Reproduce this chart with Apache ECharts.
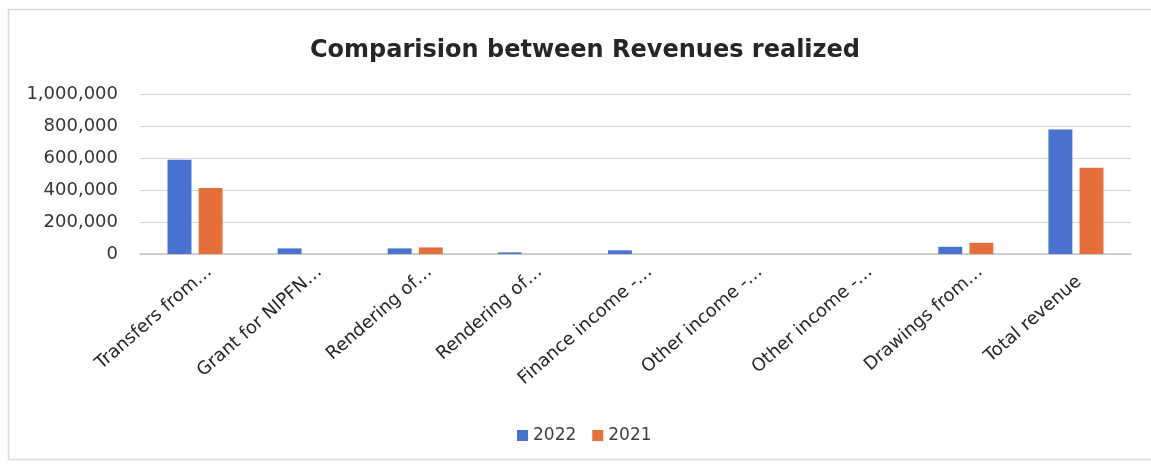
<!DOCTYPE html>
<html>
<head>
<meta charset="utf-8">
<script src="https://cdn.jsdelivr.net/npm/echarts@6/dist/echarts.min.js"></script>
<style>
  html, body { margin: 0; padding: 0; background: #ffffff; }
  #chart { width: 1151px; height: 465px; }
</style>
</head>
<body>
<div id="chart"></div>
<script>
// Revenue line items (labels truncated as shown on the axis)
const categories = [
  'Transfers from…',
  'Grant for NIPFN…',
  'Rendering of…',
  'Rendering of…',
  'Finance income -…',
  'Other income -…',
  'Other income -…',
  'Drawings from…',
  'Total revenue'
];

// Revenues realized per year
const revenue2022 = [589000, 35000, 35000, 10000, 23000, 0, 0, 45000, 778000];
const revenue2021 = [412000, 0, 41000, 0, 0, 0, 0, 70000, 539000];

const seriesNames = ['2022', '2021'];
const yTicks = { min: 0, max: 1000000, interval: 200000 };

const FONT = 'DejaVu Sans';

// Untruncated labels sit a little further back along the slant
const xAxisData = categories.map(name =>
  name.endsWith('…') ? name : { value: name, textStyle: { padding: [23, -4, 0, 0] } }
);

const chart = echarts.init(document.getElementById('chart'), null, { renderer: 'canvas' });

chart.setOption({
  backgroundColor: '#ffffff',
  animation: false,
  title: {
    text: 'Comparision between Revenues realized',
    left: 580,
    textAlign: 'center',
    top: 34,
    textStyle: { fontFamily: FONT, fontSize: 24, fontWeight: 'bold', color: '#262626' }
  },
  legend: {
    data: seriesNames,
    left: 512,
    top: 422,
    itemWidth: 11,
    itemHeight: 11,
    itemGap: 16,
    icon: 'rect',
    textStyle: { fontFamily: FONT, fontSize: 17, color: '#404040' }
  },
  grid: {
    left: 140,
    right: 20,
    top: 94,
    height: 160,
    outerBoundsMode: 'none'
  },
  xAxis: {
    type: 'category',
    data: xAxisData,
    axisTick: { show: false },
    axisLine: { show: true, lineStyle: { color: '#c3c3c3', width: 1.5 } },
    axisLabel: {
      interval: 0,
      rotate: 41,
      margin: 28,
      padding: [18, -19, 0, 0],
      fontFamily: FONT,
      fontSize: 18,
      color: '#262626'
    }
  },
  yAxis: {
    type: 'value',
    min: yTicks.min,
    max: yTicks.max,
    interval: yTicks.interval,
    axisLine: { show: false },
    axisTick: { show: false },
    splitLine: { lineStyle: { color: '#d6d6d6', width: 1.2 } },
    axisLabel: {
      margin: 22,
      fontFamily: FONT,
      fontSize: 18,
      color: '#333333',
      formatter: v => v.toLocaleString('en-US')
    }
  },
  series: [
    {
      name: seriesNames[0],
      type: 'bar',
      data: revenue2022,
      barGap: '30%',
      barCategoryGap: '50%',
      itemStyle: { color: '#4a73cf' }
    },
    {
      name: seriesNames[1],
      type: 'bar',
      data: revenue2021,
      itemStyle: { color: '#e5703c' }
    }
  ],
  graphic: [
    {
      type: 'rect',
      silent: true,
      z: -1,
      shape: { x: 8.5, y: 9.5, width: 1160, height: 450 },
      style: { fill: null, stroke: '#d3dae5', lineWidth: 1.5 }
    }
  ]
});
</script>
</body>
</html>
